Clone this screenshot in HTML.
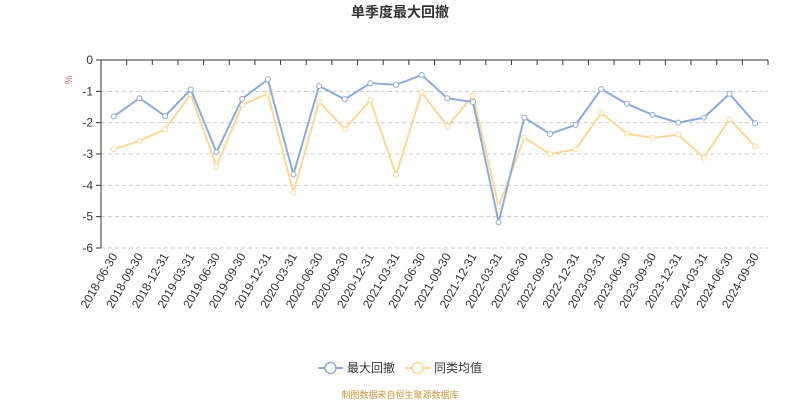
<!DOCTYPE html>
<html><head><meta charset="utf-8"><style>
body{margin:0;background:#fff;font-family:"Liberation Sans","Noto Sans CJK SC",sans-serif}
</style></head><body>
<svg id="c" width="800" height="400" xmlns="http://www.w3.org/2000/svg" style="display:block">
<text x="400" y="17" text-anchor="middle" font-size="14" font-weight="bold" fill="#333">单季度最大回撤</text>
<text x="69" y="83" text-anchor="middle" font-size="10" fill="#e66" transform="rotate(-90 69 80)">%</text>
<g id="grid"></g><g id="axes"></g><g id="series"></g>
<g>
<g>
<line x1="318" y1="368" x2="343" y2="368" stroke="#8eaad6" stroke-width="2"/><circle cx="330.5" cy="368" r="5.5" fill="#fff" stroke="#8eaad6" stroke-width="1.5"/>
<text x="347" y="372" font-size="12" fill="#333">最大回撤</text></g>
<g>
<line x1="405" y1="368" x2="430" y2="368" stroke="#fad99a" stroke-width="2"/><circle cx="417.5" cy="368" r="5.5" fill="#fff" stroke="#fad99a" stroke-width="1.5"/>
<text x="434" y="372" font-size="12" fill="#333">同类均值</text></g>
</g>
<text x="400" y="398" text-anchor="middle" font-size="9" fill="#c8963c">制图数据来自恒生聚源数据库</text>
</svg>
<script>
const categories=["2018-06-30","2018-09-30","2018-12-31","2019-03-31","2019-06-30","2019-09-30","2019-12-31","2020-03-31","2020-06-30","2020-09-30","2020-12-31","2021-03-31","2021-06-30","2021-09-30","2021-12-31","2022-03-31","2022-06-30","2022-09-30","2022-12-31","2023-03-31","2023-06-30","2023-09-30","2023-12-31","2024-03-31","2024-06-30","2024-09-30"];
const maxDrawdown=[-1.80,-1.22,-1.79,-0.94,-2.94,-1.24,-0.62,-3.65,-0.83,-1.25,-0.74,-0.79,-0.48,-1.22,-1.34,-5.18,-1.84,-2.36,-2.07,-0.93,-1.40,-1.75,-2.00,-1.84,-1.08,-2.02];
const peerAverage=[-2.85,-2.58,-2.21,-1.09,-3.40,-1.43,-1.08,-4.23,-1.33,-2.21,-1.28,-3.67,-1.03,-2.12,-1.14,-4.67,-2.48,-3.00,-2.85,-1.69,-2.35,-2.49,-2.38,-3.12,-1.89,-2.76];
const yTicks=[0,-1,-2,-3,-4,-5,-6];
const NS="http://www.w3.org/2000/svg";
const L=101,R=768,T=60,B=248;
const bw=(R-L)/categories.length;
const xs=i=>L+bw*(i+0.5);
const ys=v=>T+(0-v)/6*(B-T);
function mk(tag,attrs,parent){const e=document.createElementNS(NS,tag);for(const k in attrs)e.setAttribute(k,attrs[k]);parent.appendChild(e);return e;}
const grid=document.getElementById('grid'),axes=document.getElementById('axes'),ser=document.getElementById('series');
yTicks.forEach(t=>{const y=ys(t);
 if(t!==0){const g=mk('line',{x1:L,x2:R,y1:y,y2:y,stroke:'#ccc','stroke-dasharray':'4,3'},grid);
 
 }
 const tk=mk('line',{x1:L-5,x2:L,y1:y,y2:y,stroke:'#333'},axes);
 
 
 const tx=mk('text',{x:L-8,y:y+4,'text-anchor':'end','font-size':12,fill:'#333'},axes);
 tx.textContent=t;
 
 
});
const ya=mk('line',{x1:L,x2:L,y1:T,y2:B,stroke:'#333'},axes);


const xa=mk('line',{x1:L,x2:R,y1:T,y2:T,stroke:'#333'},axes);


for(let i=0;i<=categories.length;i++){const x=L+bw*i;
 const t=mk('line',{x1:x,x2:x,y1:T,y2:T+5,stroke:'#333'},axes);
 
 }
categories.forEach((c,i)=>{const x=xs(i)+4,y=B+8;
 const t=mk('text',{x:x,y:y,'text-anchor':'end','font-size':12,fill:'#333',transform:`rotate(-60 ${x} ${y})`},axes);
 t.textContent=c;
 
 });
function drawSeries(vals,color,name){
 const p=mk('polyline',{points:vals.map((v,i)=>xs(i)+','+ys(v)).join(' '),fill:'none',stroke:color,'stroke-width':2},ser);
 
 
 vals.forEach((v,i)=>{const c=mk('circle',{cx:xs(i),cy:ys(v),r:2.5,fill:'#fff',stroke:color,'stroke-width':1},ser);
 
 });
}
drawSeries(peerAverage,'#fad99a','peer-average');
drawSeries(maxDrawdown,'#8eaad6','max-drawdown');
</script>
</body></html>
